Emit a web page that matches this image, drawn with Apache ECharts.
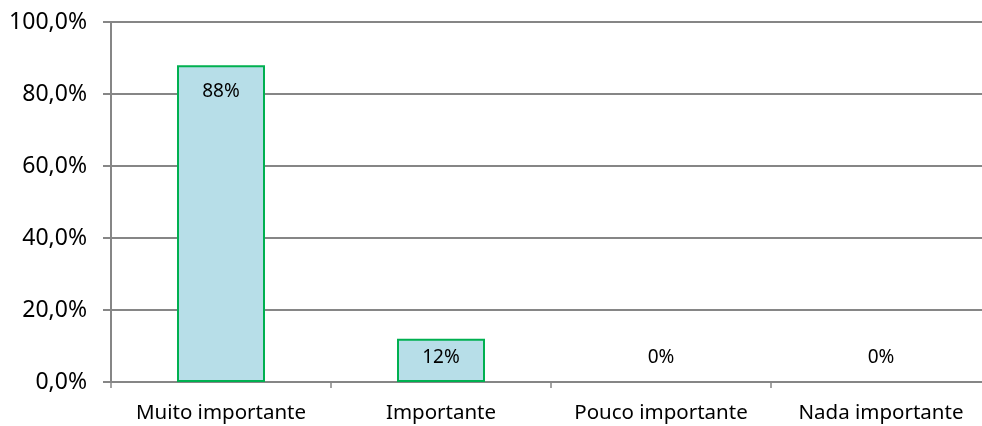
<!DOCTYPE html>
<html>
<head>
<meta charset="utf-8">
<script src="https://cdn.jsdelivr.net/npm/echarts@6/dist/echarts.min.js"></script>
<style>html,body{margin:0;padding:0;background:#fff;overflow:hidden;width:982px;height:426px;}#c{width:992px;height:426px;}</style>
</head>
<body>
<div id="c"></div>
<script>
var categories = ['Muito importante', 'Importante', 'Pouco importante', 'Nada importante'];
var values = [88, 12, 0, 0];
var yTicks = [0, 20, 40, 60, 80, 100];

var chart = echarts.init(document.getElementById('c'));
var seriesData = values.map(function (v) {
  return {
    value: v,
    itemStyle: v === 0 ? { borderWidth: 0 } : {},
    label: v > 50 ? { position: 'insideTop', distance: 17 } : { position: 'insideBottom', distance: 15 }
  };
});
chart.setOption({
  animation: false,
  grid: { left: 111, right: 1, top: 22, bottom: 44, containLabel: false },
  xAxis: {
    type: 'category',
    data: categories,
    axisLine: { lineStyle: { color: '#868686', width: 2 } },
    axisTick: { show: true, interval: 0, length: 6, lineStyle: { color: '#868686', width: 1.5 } },
    axisLabel: { interval: 0, color: '#000', fontFamily: 'Noto Sans', fontSize: 20.5, margin: 21 }
  },
  yAxis: {
    type: 'value',
    min: yTicks[0],
    max: yTicks[yTicks.length - 1],
    interval: 20,
    axisLine: { show: true, lineStyle: { color: '#868686', width: 2 } },
    axisTick: { show: true, length: 8, lineStyle: { color: '#868686', width: 2 } },
    splitLine: { show: true, lineStyle: { color: '#868686', width: 2 } },
    axisLabel: {
      color: '#000', fontFamily: 'Noto Sans', fontSize: 23, margin: 24,
      formatter: function (v) { return v.toFixed(1).replace('.', ',') + '%'; }
    }
  },
  series: [{
    type: 'bar',
    data: seriesData,
    barWidth: '40%',
    itemStyle: { color: '#B7DEE8', borderColor: '#00B050', borderWidth: 2 },
    label: {
      show: true, color: '#000', fontFamily: 'Noto Sans', fontSize: 19,
      formatter: function (p) { return p.value + '%'; }
    }
  }]
});
</script>
</body>
</html>
